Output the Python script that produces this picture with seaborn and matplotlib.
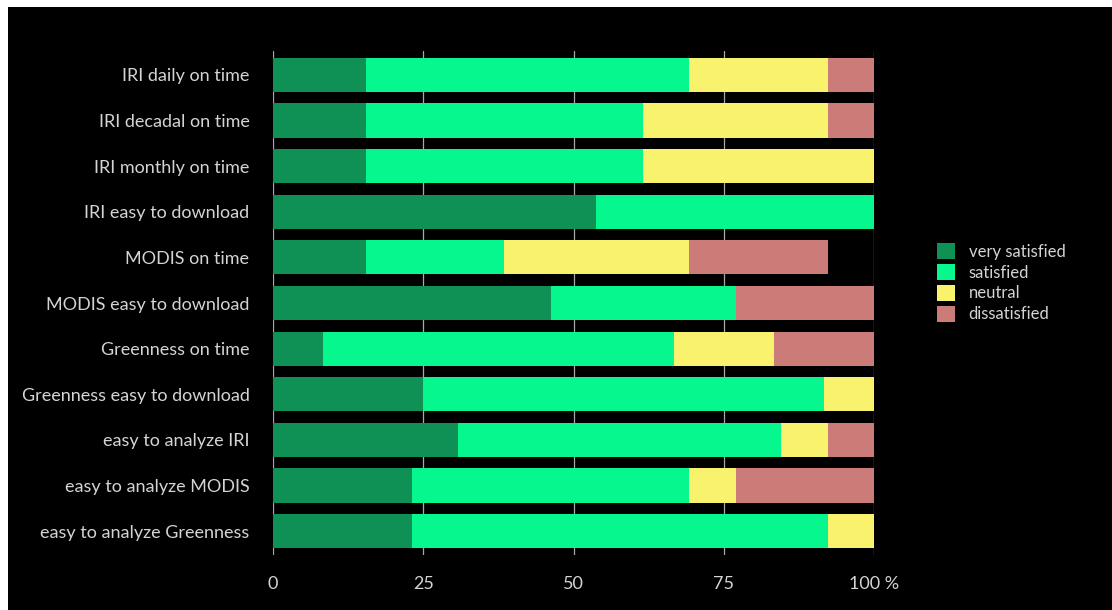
import numpy as np
import pandas as pd
import matplotlib
matplotlib.use("Agg")
import matplotlib.pyplot as plt
import matplotlib.patches as mpatches
import seaborn as sns

questions = [
    "IRI daily on time",
    "IRI decadal on time",
    "IRI monthly on time",
    "IRI easy to download",
    "MODIS on time",
    "MODIS easy to download",
    "Greenness on time",
    "Greenness easy to download",
    "easy to analyze IRI",
    "easy to analyze MODIS",
    "easy to analyze Greenness",
]

# percent of answers
very_satisfied = [15.4, 15.4, 15.4, 53.8, 15.4, 46.2, 8.3, 25.0, 30.8, 23.1, 23.1]
satisfied = [53.8, 46.2, 46.2, 46.2, 23.1, 30.8, 58.4, 66.7, 53.8, 46.2, 69.2]
neutral = [23.1, 30.8, 38.4, 0.0, 30.8, 0.0, 16.6, 8.3, 7.7, 7.7, 7.7]
dissatisfied = [7.7, 7.7, 0.0, 0.0, 23.0, 23.0, 16.7, 0.0, 7.7, 23.0, 0.0]

levels = ["very satisfied", "satisfied", "neutral", "dissatisfied"]
colors = ["#0f9155", "#05f78e", "#f9f26c", "#cb7c78"]
xticks = [0, 25, 50, 75, 100]
xticklabels = ["0", "25", "50", "75", "100 %"]

df = pd.DataFrame(
    {
        "question": questions,
        "very satisfied": very_satisfied,
        "satisfied": satisfied,
        "neutral": neutral,
        "dissatisfied": dissatisfied,
    }
)
# cumulative ends so later (shorter) bars are drawn on top
cum = df[levels].cumsum(axis=1)
cum["question"] = df["question"]

sns.set_style("dark")
plt.rcParams["font.family"] = ["Lato", "DejaVu Sans"]
txt = "#d4d4d4"

fig = plt.figure(figsize=(11.12, 6.10), dpi=100)
fig.patch.set_facecolor("white")
fig.patches.append(
    mpatches.Rectangle((8 / 1112, 0), 1, 1 - 7 / 610, transform=fig.transFigure,
                       facecolor="black", edgecolor="none", zorder=-5)
)
ax = fig.add_axes([273 / 1112, 1 - 555 / 610, (874 - 273) / 1112, (555 - 51) / 610])
ax.set_facecolor("black")

for lev, col in reversed(list(zip(levels, colors))):
    sns.barplot(data=cum, x=lev, y="question", orient="h", color=col,
                width=0.75, saturation=1, linewidth=0, edgecolor="none",
                ax=ax, zorder=3)

ax.set_xlim(0, 100)
ax.set_ylim(10.52, -0.52)
ax.set_xticks(xticks)
ax.set_xticklabels(xticklabels)
ax.set_xlabel("")
ax.set_ylabel("")
ax.grid(axis="x", color="#a8a8a8", lw=0.9, zorder=0)
ax.grid(axis="y", visible=False)
ax.set_axisbelow(True)
for s in ax.spines.values():
    s.set_visible(False)
ax.tick_params(axis="both", length=0, colors=txt, labelsize=13)
ax.tick_params(axis="y", pad=17)
ax.tick_params(axis="x", pad=15)

handles = [mpatches.Patch(facecolor=c, edgecolor="none", label=l) for l, c in zip(levels, colors)]
leg = fig.legend(handles=handles, loc="upper left", bbox_to_anchor=(922 / 1112, 1 - 228 / 610),
                 frameon=False, fontsize=12, handlelength=1.1, handleheight=1.1,
                 labelspacing=0.25, handletextpad=0.8, labelcolor=txt)

fig.savefig("out.png", dpi=100, facecolor=fig.get_facecolor())
